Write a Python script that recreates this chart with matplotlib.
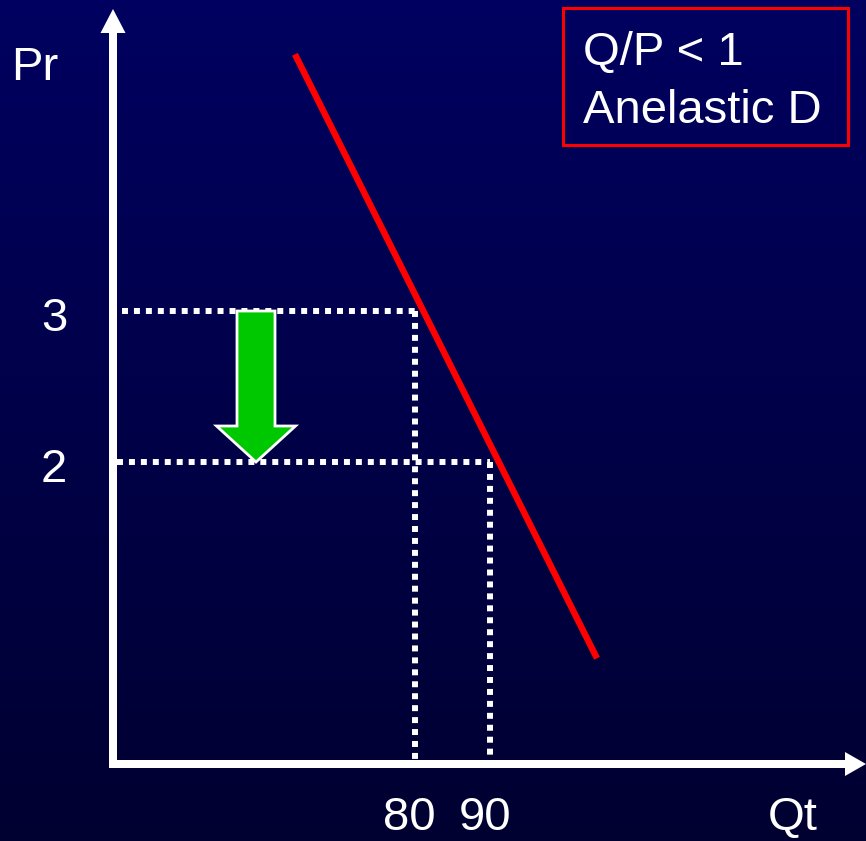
import numpy as np
import matplotlib
matplotlib.use('Agg')
import matplotlib.pyplot as plt
from matplotlib.colors import LinearSegmentedColormap
from matplotlib.patches import FancyArrow, Rectangle

plt.rcParams['font.family'] = ['Liberation Sans', 'DejaVu Sans']

# demand curve (quantity, price)
demand_q = [64.1, 104.1]
demand_p = [4.70, 0.70]

# price levels and the quantities demanded at them
prices = [3, 2]
quantities = [80, 90]

box_lines = ['Q/P < 1', 'Anelastic D']
x_label = 'Qt'
y_label = 'Pr'

W, H = 866, 841
q0 = 40                 # quantity at the price axis
px_q, px_p = 7.55, 151  # pixels per unit
org_x, org_y = 113, 764  # origin in pixels

fig = plt.figure(figsize=(W / 100, H / 100), dpi=100)
ax = fig.add_axes([0, 0, 1, 1])
xlim = (q0 - org_x / px_q, q0 + (W - org_x) / px_q)
ylim = (-(H - org_y) / px_p, org_y / px_p)
ax.set_xlim(*xlim)
ax.set_ylim(*ylim)
ax.set_axis_off()

# background gradient
cmap = LinearSegmentedColormap.from_list('bg', ['#000031', '#000060'])
grad = np.linspace(0, 1, 256).reshape(-1, 1)
ax.imshow(grad, extent=[xlim[0], xlim[1], ylim[0], ylim[1]], origin='lower',
          aspect='auto', cmap=cmap, zorder=0)

# axes arrows
top_p = (org_y - 9) / px_p
ax.add_patch(FancyArrow(q0, -4 / px_p, 0, top_p + 4 / px_p, width=8 / px_q,
                        head_width=25 / px_q, head_length=24 / px_p,
                        length_includes_head=True, color='white', lw=0, zorder=3))
ax.add_patch(FancyArrow(q0 - 4 / px_q, 0, xlim[1] - q0 + 4 / px_q, 0, width=8 / px_p,
                        head_width=24 / px_p, head_length=21 / px_q,
                        length_includes_head=True, color='white', lw=0, zorder=3))

# dotted guides
starts = [q0 + 9 / px_q, q0 + 4 / px_q]
for p, q, s in zip(prices, quantities, starts):
    ax.plot([s, q], [p, p], color='white', lw=4.3, dashes=(1, 1),
            dash_capstyle='butt', zorder=2)
    ax.plot([q, q], [p, 0], color='white', lw=4.3, dashes=(1, 1),
            dash_capstyle='butt', zorder=2)

# demand line
ax.plot(demand_q, demand_p, color='#ff0000', lw=4.6, solid_capstyle='butt', zorder=4)

# green arrow: price falls
gq = q0 + 143 / px_q
ax.add_patch(FancyArrow(gq, prices[0], 0, prices[1] - prices[0], width=38 / px_q,
                        head_width=79 / px_q, head_length=36 / px_p,
                        length_includes_head=True, facecolor='#00c800',
                        edgecolor='white', lw=2, zorder=5))

fs = 34
label_drop = 0.13   # baseline sits a little below the price level
for p in prices:
    ax.text(32.2, p - label_drop, str(p), color='white', fontsize=fs,
            ha='center', va='baseline')
bottom_base = -0.44
for q in quantities:
    ax.text(q - 0.7, bottom_base, str(q), color='white', fontsize=fs,
            ha='center', va='baseline')
ax.text(130.0, bottom_base, x_label, color='white', fontsize=fs, ha='center', va='baseline')
ax.text(26.5, 4.53, y_label, color='white', fontsize=fs, ha='left', va='baseline')

# info box
fig.add_artist(Rectangle((563 / W, 1 - 145 / H), 285 / W, 137 / H, fill=False,
                         edgecolor='#ff0000', lw=2.2, transform=fig.transFigure))
fig.text(583 / W, 1 - 65 / H, box_lines[0], color='white', fontsize=fs, va='baseline')
fig.text(583 / W, 1 - 123 / H, box_lines[1], color='white', fontsize=fs, va='baseline')

fig.savefig('out.png', dpi=100)
